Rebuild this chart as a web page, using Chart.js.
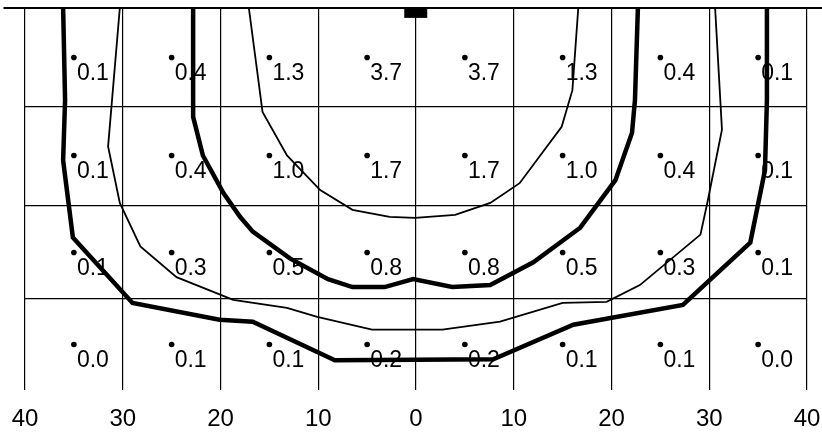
<!DOCTYPE html>
<html>
<head>
<meta charset="utf-8">
<script src="https://cdn.jsdelivr.net/npm/chart.js@4/dist/chart.umd.min.js"></script>
<style>
  body { margin: 0; background: #fff; }
  canvas { display: block; }
</style>
</head>
<body>
<canvas id="isoChart" width="822" height="433"></canvas>
<script>
// Distance from centre (tick labels shown without sign)
const xTicks = [-40, -30, -20, -10, 0, 10, 20, 30, 40];
// Row boundaries (depth), top = surface
const rowEdges = [0, 10, 20, 29.4];
const depthMax = 38.6;

// Cell centres
const cellX = [-35, -25, -15, -5, 5, 15, 25, 35];
const cellY = [5, 14.9, 24.7, 34.0];

// Values per row, top to bottom
const row1 = [0.1, 0.4, 1.3, 3.7, 3.7, 1.3, 0.4, 0.1];
const row2 = [0.1, 0.4, 1.0, 1.7, 1.7, 1.0, 0.4, 0.1];
const row3 = [0.1, 0.3, 0.5, 0.8, 0.8, 0.5, 0.3, 0.1];
const row4 = [0.0, 0.1, 0.1, 0.2, 0.2, 0.1, 0.1, 0.0];
const rows = [row1, row2, row3, row4];

// Isolines [x, depth]
const outerThick = [
    [-36.1, 0], [-35.9, 9.3], [-36.1, 15.4], [-35.1, 23.2], [-29.0, 29.8],
    [-20.1, 31.5], [-16.7, 31.7], [-8.3, 35.6], [7.9, 35.5], [16.1, 32.0],
    [27.3, 30.0], [34.2, 23.7], [35.7, 16.4], [35.9, 9.3], [35.9, 0]
];
const outerThin = [
    [-30.3, 0], [-31.5, 14.0], [-30.3, 19.7], [-28.2, 24.1], [-24.5, 27.2],
    [-18.7, 29.5], [-13.2, 30.3], [-10.1, 31.2], [-4.5, 32.5], [2.7, 32.5],
    [8.6, 31.7], [15.0, 29.8], [19.5, 29.7], [22.9, 28.0], [29.1, 22.9],
    [29.8, 19.7], [31.3, 12.3], [30.6, 0]
];
const innerThick = [
    [-22.8, 0], [-22.8, 11.0], [-21.8, 14.9], [-19.7, 18.7], [-18.0, 21.1],
    [-16.7, 22.6], [-12.9, 25.3], [-9.0, 27.4], [-6.5, 28.2], [-3.2, 28.2],
    [-0.3, 27.4], [3.7, 28.2], [7.6, 28.0], [12.0, 25.7], [16.8, 22.2],
    [20.4, 17.4], [22.1, 12.6], [22.4, 9.3], [22.7, 0]
];
const innerThin = [
    [-17.1, 0], [-15.7, 10.5], [-13.2, 14.9], [-9.8, 18.4], [-6.5, 20.4],
    [-2.7, 21.1], [-0.1, 21.2], [4.0, 20.9], [7.6, 19.7], [10.6, 17.7],
    [14.9, 12.0], [16.0, 8.3], [16.6, 0]
];

const toPoints = (arr) => arr.map(([x, y]) => ({ x: x, y: y }));

const cellPoints = [];
const cellValues = [];
rows.forEach((row, r) => {
    row.forEach((v, c) => {
        cellPoints.push({ x: cellX[c], y: cellY[r] });
        cellValues.push(v);
    });
});

// Surface line, source block and cell labels
const overlayPlugin = {
    id: "overlay",
    beforeDatasetsDraw(chart) {
        const ctx = chart.ctx;
        const meta = chart.getDatasetMeta(4);
        ctx.save();
        ctx.font = "23px 'Liberation Sans', Arial, sans-serif";
        ctx.fillStyle = "#000";
        ctx.textBaseline = "alphabetic";
        meta.data.forEach((pt, i) => {
            ctx.fillText(cellValues[i].toFixed(1), pt.x + 3, pt.y + 23);
        });
        ctx.restore();
    },
    afterDraw(chart) {
        const ctx = chart.ctx;
        const xs = chart.scales.x;
        const ys = chart.scales.y;
        const top = ys.getPixelForValue(0);
        ctx.save();
        ctx.strokeStyle = "#000";
        ctx.lineWidth = 2;
        ctx.beginPath();
        ctx.moveTo(xs.getPixelForValue(-42.2), top);
        ctx.lineTo(chart.width, top);
        ctx.stroke();
        // source block
        const l = xs.getPixelForValue(-1.2);
        const r = xs.getPixelForValue(1.15);
        const b = ys.getPixelForValue(1.0);
        ctx.fillStyle = "#000";
        ctx.fillRect(l, top, r - l, b - top);
        ctx.restore();
    }
};

const lineDs = (data, width) => ({
    type: "scatter",
    data: toPoints(data),
    showLine: true,
    borderColor: "#000",
    borderWidth: width,
    pointRadius: 0,
    tension: 0,
    fill: false
});

new Chart(document.getElementById("isoChart"), {
    type: "scatter",
    data: {
        datasets: [
            lineDs(outerThick, 4.5),
            lineDs(outerThin, 1.8),
            lineDs(innerThick, 4.5),
            lineDs(innerThin, 1.8),
            {
                data: cellPoints,
                pointRadius: 2.8,
                pointBackgroundColor: "#000",
                pointBorderWidth: 0,
                showLine: false
            }
        ]
    },
    options: {
        responsive: false,
        animation: false,
        events: [],
        layout: { padding: { left: 25, right: 15, top: 8, bottom: 0 } },
        plugins: {
            legend: { display: false },
            tooltip: { enabled: false }
        },
        scales: {
            x: {
                type: "linear",
                min: -40,
                max: 40,
                afterBuildTicks: (scale) => {
                    scale.ticks = xTicks.map((v) => ({ value: v }));
                },
                afterFit: (scale) => {
                    scale.height = 43;
                    scale.paddingLeft = 0;
                    scale.paddingRight = 0;
                },
                border: { display: false },
                grid: { color: "#000", lineWidth: 1.2, drawTicks: false },
                ticks: {
                    padding: 15,
                    color: "#000",
                    maxRotation: 0,
                    font: { family: "'Liberation Sans', Arial, sans-serif", size: 24 },
                    callback: (v) => Math.abs(v)
                }
            },
            y: {
                type: "linear",
                reverse: true,
                min: 0,
                max: depthMax,
                afterBuildTicks: (scale) => {
                    scale.ticks = rowEdges.map((v) => ({ value: v }));
                },
                afterFit: (scale) => {
                    scale.width = 0;
                },
                border: { display: false },
                grid: { color: "#000", lineWidth: 1.2, drawTicks: false },
                ticks: { display: false }
            }
        }
    },
    plugins: [overlayPlugin]
});
</script>
</body>
</html>
